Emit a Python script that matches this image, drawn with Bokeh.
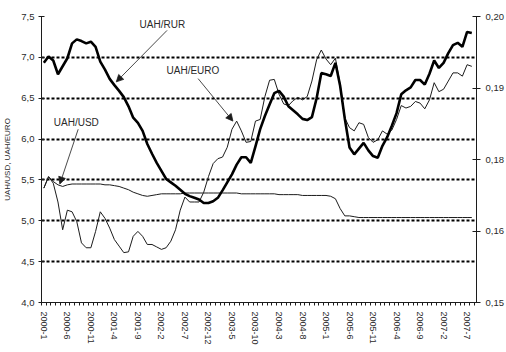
from bokeh.plotting import figure
from bokeh.models import (Range1d, LinearAxis, FixedTicker, CustomJSTickFormatter,
                          ColumnDataSource, Arrow, NormalHead)
from bokeh.core.properties import value
from bokeh.embed import file_html
from bokeh.resources import INLINE

# ---------------- data (monthly, 2000-1 .. 2007-8) ----------------
UAH_USD = [5.40, 5.54, 5.48, 5.44, 5.42, 5.44, 5.45, 5.45, 5.45, 5.45,
           5.45, 5.45, 5.45, 5.44, 5.44, 5.43, 5.42, 5.40, 5.38, 5.35,
           5.33, 5.31, 5.30, 5.31, 5.32, 5.33, 5.33, 5.33, 5.33, 5.33,
           5.34, 5.34, 5.34, 5.34, 5.34, 5.34, 5.34, 5.34, 5.34, 5.34,
           5.34, 5.34, 5.33, 5.33, 5.33, 5.33, 5.33, 5.33, 5.33, 5.33,
           5.32, 5.32, 5.32, 5.32, 5.32, 5.31, 5.31, 5.31, 5.31, 5.31,
           5.31, 5.30, 5.27, 5.15, 5.06, 5.06, 5.05, 5.04, 5.04, 5.04,
           5.04, 5.04, 5.04, 5.04, 5.04, 5.04, 5.04, 5.04, 5.04, 5.04,
           5.04, 5.04, 5.04, 5.04, 5.04, 5.04, 5.04, 5.04, 5.04, 5.04,
           5.04, 5.04]

UAH_EURO = [5.40, 5.54, 5.46, 5.23, 4.89, 5.13, 5.11, 4.99, 4.73, 4.67,
            4.67, 4.87, 5.11, 5.03, 4.91, 4.77, 4.69, 4.61, 4.62, 4.81,
            4.87, 4.81, 4.71, 4.71, 4.68, 4.65, 4.67, 4.75, 4.89, 5.13,
            5.29, 5.23, 5.23, 5.23, 5.35, 5.54, 5.70, 5.76, 5.78, 5.90,
            6.12, 6.22, 6.10, 5.96, 5.97, 6.22, 6.24, 6.52, 6.72, 6.73,
            6.55, 6.43, 6.41, 6.47, 6.51, 6.48, 6.52, 6.71, 6.97, 7.09,
            6.98, 6.91, 6.99, 6.67, 6.26, 6.14, 6.10, 6.20, 6.18, 6.02,
            5.96, 5.99, 6.10, 6.06, 6.11, 6.24, 6.41, 6.38, 6.40, 6.46,
            6.44, 6.37, 6.48, 6.69, 6.58, 6.61, 6.71, 6.81, 6.81, 6.77,
            6.91, 6.89]

UAH_RUR = [0.1919, 0.1930, 0.1923, 0.1899, 0.1913, 0.1927, 0.1953, 0.1960, 0.1957, 0.1953,
           0.1956, 0.1947, 0.1921, 0.1907, 0.1891, 0.1880, 0.1870, 0.1859, 0.1843, 0.1823,
           0.1814, 0.1800, 0.1777, 0.1760, 0.1744, 0.1730, 0.1716, 0.1710, 0.1704, 0.1697,
           0.1690, 0.1686, 0.1683, 0.1680, 0.1674, 0.1674, 0.1677, 0.1683, 0.1696, 0.1710,
           0.1724, 0.1741, 0.1754, 0.1754, 0.1744, 0.1773, 0.1803, 0.1826, 0.1846, 0.1866,
           0.1870, 0.1860, 0.1843, 0.1836, 0.1829, 0.1821, 0.1819, 0.1824, 0.1857, 0.1901,
           0.1899, 0.1896, 0.1919, 0.1879, 0.1821, 0.1771, 0.1759, 0.1769, 0.1779, 0.1766,
           0.1756, 0.1753, 0.1774, 0.1789, 0.1809, 0.1831, 0.1864, 0.1871, 0.1876, 0.1889,
           0.1889, 0.1881, 0.1900, 0.1923, 0.1910, 0.1919, 0.1936, 0.1950, 0.1954, 0.1947,
           0.1973, 0.1971]

X_LABELS = ["2000-1", "2000-6", "2000-11", "2001-4", "2001-9", "2002-2", "2002-7",
            "2002-12", "2003-5", "2003-10", "2004-3", "2004-8", "2005-1", "2005-6",
            "2005-11", "2006-4", "2006-9", "2007-2", "2007-7"]
X_LABEL_POS = list(range(0, 91, 5))

LEFT_TICKS = [4.0, 4.5, 5.0, 5.5, 6.0, 6.5, 7.0, 7.5]
RIGHT_TICKS = [0.15, 0.1625, 0.175, 0.1875, 0.20]
RIGHT_LABELS = ["0,15", "0,16", "0,18", "0,19", "0,20"]

FONT = "Liberation Sans"
INK = "#1c1c1c"
TXT = "#2a2a2a"

months = list(range(len(UAH_USD)))
src = ColumnDataSource(dict(m=months, usd=UAH_USD, eur=UAH_EURO, rur=UAH_RUR))

p = figure(width=506, height=352, output_backend="svg", toolbar_location=None,
           x_range=Range1d(-0.5, 92.0), y_range=Range1d(4.0, 7.5),
           min_border_left=40, min_border_right=30, min_border_top=16, min_border_bottom=50,
           background_fill_color="white", border_fill_color="white")
p.outline_line_color = None
p.extra_y_ranges = {"rur": Range1d(0.15, 0.20)}

# axes
p.xaxis.ticker = FixedTicker(ticks=X_LABEL_POS, minor_ticks=[k - 0.5 for k in range(93)])
p.xaxis.formatter = CustomJSTickFormatter(args=dict(pos=X_LABEL_POS, labels=X_LABELS), code="""
    const i = pos.findIndex(t => Math.abs(t - tick) < 1e-6);
    return i >= 0 ? labels[i] : "";
""")
p.xaxis.major_label_orientation = "vertical"
p.xaxis.major_tick_out = 0
p.xaxis.major_tick_in = 0
p.xaxis.minor_tick_out = 3
p.xaxis.minor_tick_in = 0
p.xaxis.major_label_standoff = 6

p.yaxis.ticker = FixedTicker(ticks=LEFT_TICKS)
p.yaxis.formatter = CustomJSTickFormatter(code="return tick.toFixed(1).replace('.', ',');")
p.yaxis.major_tick_in = 3
p.yaxis.major_tick_out = 3
p.yaxis.minor_tick_out = 0
p.yaxis.minor_tick_in = 0
p.yaxis.major_label_standoff = 4
p.yaxis.axis_label = "UAH/USD, UAH/EURO"
p.yaxis.axis_label_standoff = 6
p.yaxis.axis_label_text_font_size = "8px"

raxis = LinearAxis(y_range_name="rur")
raxis.ticker = FixedTicker(ticks=RIGHT_TICKS)
raxis.formatter = CustomJSTickFormatter(args=dict(vals=RIGHT_TICKS, labels=RIGHT_LABELS), code="""
    const i = vals.findIndex(t => Math.abs(t - tick) < 1e-7);
    return i >= 0 ? labels[i] : "";
""")
raxis.major_tick_in = 4
raxis.major_tick_out = 4
raxis.minor_tick_in = 0
raxis.minor_tick_out = 0
raxis.major_label_standoff = 5
p.add_layout(raxis, "right")

for ax in [p.xaxis[0], p.yaxis[0], raxis]:
    ax.axis_line_color = INK
    ax.major_tick_line_color = INK
    ax.minor_tick_line_color = INK
    ax.major_label_text_font = FONT
    ax.major_label_text_color = TXT
    ax.axis_label_text_font = FONT
    ax.axis_label_text_font_style = "normal"
    ax.axis_label_text_color = TXT
p.xaxis.major_label_text_font_size = "9px"
p.yaxis.major_label_text_font_size = "9.5px"
raxis.major_label_text_font_size = "9.5px"

# grid
p.xgrid.grid_line_color = None
p.ygrid.ticker = FixedTicker(ticks=[4.5, 5.0, 5.5, 6.0, 6.5, 7.0, 7.5])
p.ygrid.grid_line_color = "black"
p.ygrid.grid_line_dash = "3 2"
p.ygrid.grid_line_width = 1.8

# series
p.line("m", "usd", source=src, line_color=INK, line_width=1.0)
p.line("m", "eur", source=src, line_color=INK, line_width=1.0)
p.line("m", "rur", source=src, line_color="black", line_width=2.6, y_range_name="rur")

# annotations
ann = ColumnDataSource(dict(x=[25.2, 31.7, 6.9], y=[7.40, 6.84, 6.20],
                            t=["UAH/RUR", "UAH/EURO", "UAH/USD"]))
p.text("x", "y", text="t", source=ann, text_font=value(FONT), text_font_size="10px",
       text_color=TXT, text_align="center", text_baseline="middle")

for (x0, y0, x1, y1) in [(26.2, 7.33, 15.4, 6.70), (32.8, 6.74, 40.2, 6.22), (7.3, 6.12, 3.4, 5.45)]:
    p.add_layout(Arrow(x_start=x0, y_start=y0, x_end=x1, y_end=y1, line_width=0.8,
                       line_color=INK,
                       end=NormalHead(size=7, fill_color=INK, line_color=INK, line_width=0.8)))

open("out.html", "w").write(file_html(p, INLINE))
